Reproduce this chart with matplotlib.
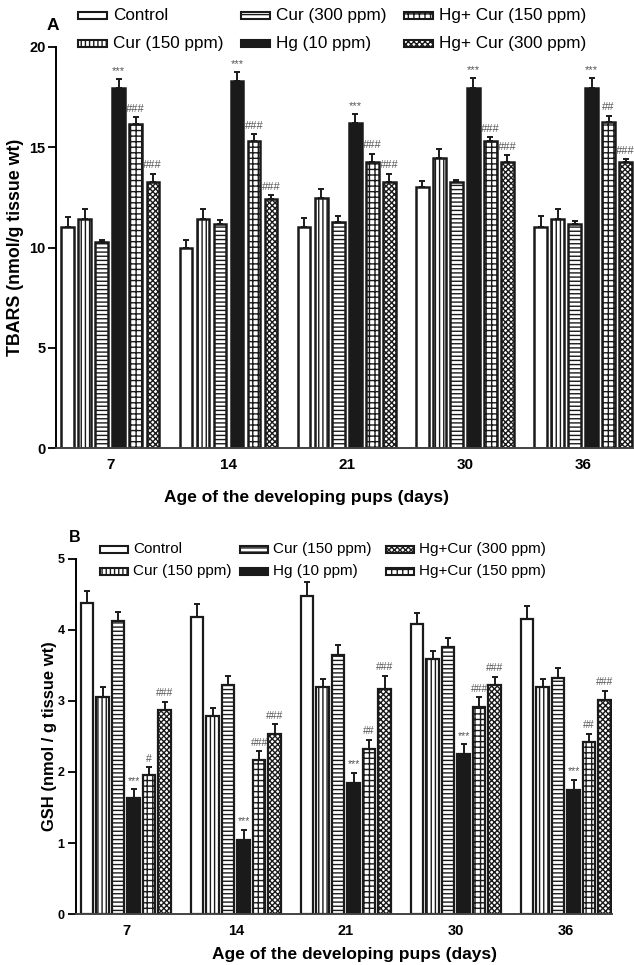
import matplotlib
matplotlib.use('Agg')
import matplotlib.pyplot as plt
from matplotlib.patches import Rectangle
import numpy as np

plt.rcParams['font.family'] = ['Liberation Sans', 'DejaVu Sans']
plt.rcParams['hatch.linewidth'] = 1.0

W, H = 634, 965
days = ['7', '14', '21', '30', '36']

# panel A - TBARS
a_labels = ['Control', 'Cur (150 ppm)', 'Cur (300 ppm)', 'Hg (10 ppm)',
            'Hg+ Cur (150 ppm)', 'Hg+ Cur (300 ppm)']
a_control = [11.03, 10.0, 11.03, 13.03, 11.03]
a_cur150 = [11.4, 11.4, 12.45, 14.45, 11.42]
a_cur300 = [10.25, 11.15, 11.25, 13.27, 11.15]
a_hg = [17.97, 18.3, 16.2, 17.97, 17.97]
a_hgcur150 = [16.16, 15.3, 14.28, 15.3, 16.28]
a_hgcur300 = [13.28, 12.4, 13.28, 14.28, 14.28]
a_err_control = [0.47, 0.37, 0.42, 0.27, 0.55]
a_err_cur150 = [0.5, 0.5, 0.48, 0.48, 0.5]
a_err_cur300 = [0.1, 0.22, 0.32, 0.08, 0.18]
a_err_hg = [0.43, 0.44, 0.44, 0.47, 0.47]
a_err_hgcur150 = [0.34, 0.36, 0.4, 0.2, 0.3]
a_err_hgcur300 = [0.39, 0.2, 0.4, 0.32, 0.13]
a_sig_hg = ['***'] * 5
a_sig_hgcur150 = ['###', '###', '###', '###', '##']
a_sig_hgcur300 = ['###'] * 5

# panel B - GSH
b_labels = ['Control', 'Cur (150 ppm)', 'Cur (150 ppm)', 'Hg (10 ppm)',
            'Hg+Cur (150 ppm)', 'Hg+Cur (300 ppm)']
b_control = [4.38, 4.18, 4.48, 4.08, 4.15]
b_cur150 = [3.05, 2.79, 3.19, 3.59, 3.19]
b_cur300 = [4.12, 3.22, 3.65, 3.76, 3.32]
b_hg = [1.63, 1.05, 1.85, 2.25, 1.75]
b_hgcur150 = [1.96, 2.17, 2.32, 2.92, 2.42]
b_hgcur300 = [2.87, 2.53, 3.16, 3.22, 3.01]
b_err_control = [0.16, 0.18, 0.19, 0.16, 0.18]
b_err_cur150 = [0.14, 0.11, 0.11, 0.11, 0.11]
b_err_cur300 = [0.13, 0.13, 0.14, 0.12, 0.14]
b_err_hg = [0.13, 0.14, 0.14, 0.14, 0.14]
b_err_hgcur150 = [0.11, 0.12, 0.13, 0.13, 0.12]
b_err_hgcur300 = [0.12, 0.14, 0.19, 0.12, 0.13]
b_sig_hg = ['***'] * 5
b_sig_hgcur150 = ['#', '###', '##', '###', '##']
b_sig_hgcur300 = ['###'] * 5

styles = [dict(color='white', hatch=None),
          dict(color='white', hatch='||||'),
          dict(color='white', hatch='----'),
          dict(color='#1a1a1a', hatch=None),
          dict(color='white', hatch='+++'),
          dict(color='white', hatch='xxxxxx')]


def draw_panel(ax, series, errs, sigs, width, step, sig_fs, lw):
    x = np.arange(len(days))
    for k, (vals, err, st) in enumerate(zip(series, errs, styles)):
        pos = x + (k - 2.5) * step
        ax.bar(pos, vals, width, color=st['color'], hatch=st['hatch'],
               edgecolor='#1a1a1a', linewidth=lw,
               yerr=[np.zeros(len(vals)), err],
               error_kw=dict(ecolor='#1a1a1a', elinewidth=1.4, capsize=2.5, capthick=1.4))
        if k in sigs:
            for p, v, e, s in zip(pos, vals, err, sigs[k]):
                ax.annotate(s, (p, v + e), xytext=(0, 2.5), textcoords='offset points',
                            ha='center', va='bottom', fontsize=sig_fs, color='#555555')
    ax.set_xticks(x)
    ax.spines['top'].set_visible(False)
    ax.spines['right'].set_visible(False)
    ax.spines['left'].set_linewidth(1.4)
    ax.spines['bottom'].set_linewidth(1.4)
    ax.spines['bottom'].set_color('#444444')


def legend_entry(fig, px, py, k, label, fs, pw=29, ph=7, tx=6):
    st = styles[k]
    r = Rectangle((px / W, 1 - (py + ph / 2) / H), pw / W, ph / H,
                  transform=fig.transFigure, facecolor=st['color'], hatch=st['hatch'],
                  edgecolor='#1a1a1a', linewidth=1.5)
    fig.add_artist(r)
    fig.text((px + pw + tx) / W, 1 - py / H, label, fontsize=fs, ha='left', va='center')


fig = plt.figure(figsize=(W / 100, H / 100), dpi=100)

# panel A
axA = fig.add_axes([56 / W, 1 - 448 / H, 578 / W, 401 / H])
draw_panel(axA, [a_control, a_cur150, a_cur300, a_hg, a_hgcur150, a_hgcur300],
           [a_err_control, a_err_cur150, a_err_cur300, a_err_hg, a_err_hgcur150, a_err_hgcur300],
           {3: a_sig_hg, 4: a_sig_hgcur150, 5: a_sig_hgcur300},
           0.107, 0.144, 8, 1.8)
axA.set_ylim(0, 20)
axA.set_yticks([0, 5, 10, 15, 20])
axA.set_xlim(-0.459, 4.43)
axA.set_xticklabels(days, fontweight='bold', fontsize=11)
axA.tick_params(axis='x', length=0, pad=7)
axA.tick_params(axis='y', length=6, width=1.3, labelsize=10.5, pad=1.5)
for t in axA.get_yticklabels():
    t.set_fontweight('bold')
axA.set_ylabel('TBARS (nmol/g tissue wt)', fontweight='bold', fontsize=12.8)
axA.yaxis.set_label_coords(-(56 - 24) / 578, 0.5)
fig.text(307 / W, 1 - 497 / H, 'Age of the developing pups (days)', fontweight='bold',
         fontsize=12.5, ha='center', va='center')
fig.text(53 / W, 1 - 25 / H, 'A', fontweight='bold', fontsize=12.5, ha='center', va='center')

a_cols = [78, 241, 404]
a_rows = [15.7, 43.5]
for k, lab in enumerate(a_labels):
    legend_entry(fig, a_cols[k // 2], a_rows[k % 2], k, lab, 12.3)

# panel B
axB = fig.add_axes([75.7 / W, 1 - 914.3 / H, 536.3 / W, 355.8 / H])
draw_panel(axB, [b_control, b_cur150, b_cur300, b_hg, b_hgcur150, b_hgcur300],
           [b_err_control, b_err_cur150, b_err_cur300, b_err_hg, b_err_hgcur150, b_err_hgcur300],
           {3: b_sig_hg, 4: b_sig_hgcur150, 5: b_sig_hgcur300},
           0.114, 0.141, 7.5, 1.6)
axB.set_ylim(0, 5)
axB.set_yticks([0, 1, 2, 3, 4, 5])
axB.set_xlim(-0.457, 4.42)
axB.set_xticklabels(days, fontweight='bold', fontsize=10.5)
axB.tick_params(axis='x', length=0, pad=7)
axB.tick_params(axis='y', length=6, width=1.3, labelsize=9, pad=2)
for t in axB.get_yticklabels():
    t.set_fontweight('bold')
axB.set_ylabel('GSH (nmol / g tissue wt)', fontweight='bold', fontsize=11.9)
axB.yaxis.set_label_coords(-(75.7 - 57) / 536.3, 0.5)
fig.text(355 / W, 1 - 955 / H, 'Age of the developing pups (days)', fontweight='bold',
         fontsize=12.5, ha='center', va='center')
fig.text(75 / W, 1 - 538 / H, 'B', fontweight='bold', fontsize=11.5, ha='center', va='center')

b_cols = [100, 240, 386]
b_rows = [549, 571]
orderB = [0, 1, 2, 3, 5, 4]
for i, k in enumerate(orderB):
    legend_entry(fig, b_cols[i // 2], b_rows[i % 2], k, b_labels[k], 11, pw=28, tx=5)

fig.savefig('out.png', dpi=100)
